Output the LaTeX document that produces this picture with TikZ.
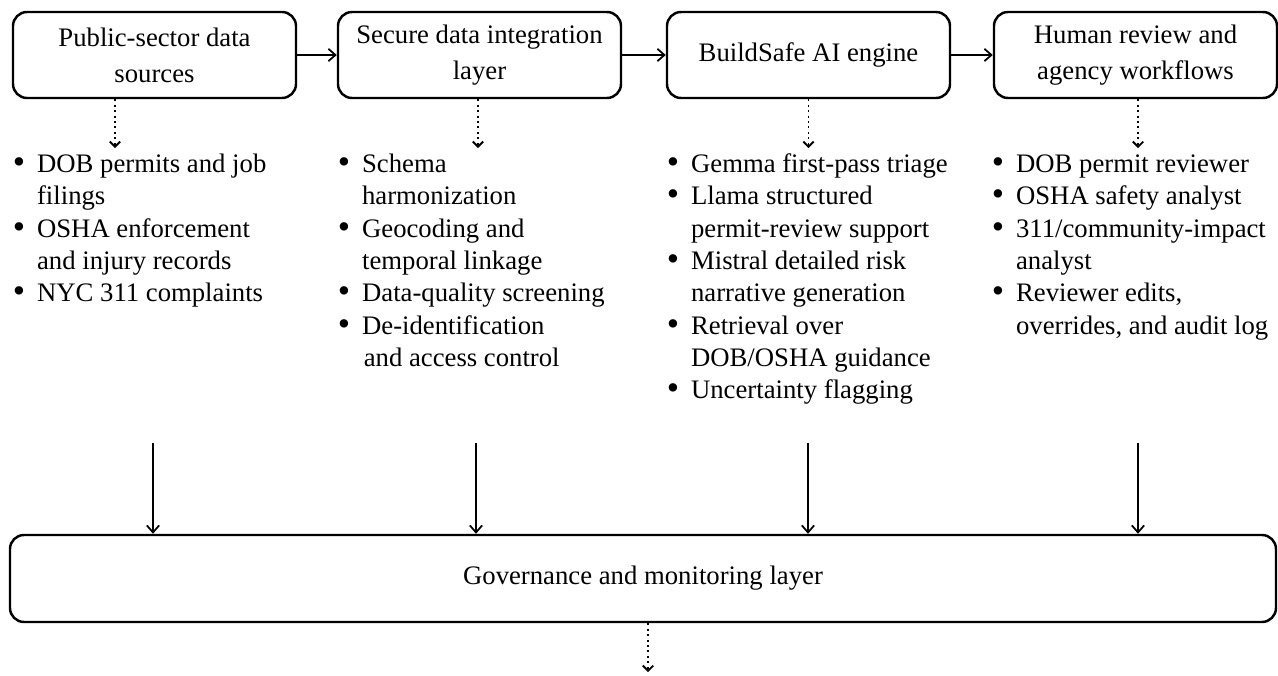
\documentclass[tikz,border=0pt]{standalone}
\usepackage{fontspec}
\setmainfont{Liberation Serif}
\usetikzlibrary{arrows.meta}

\newcommand{\bulletlist}[1]{\begin{tabular}{@{}l@{\hspace{6.8pt}}l@{}}#1\end{tabular}}
\newcommand{\bul}{{\fontsize{20}{18.4}\selectfont\raisebox{-0.6pt}{\textbullet}}}

\begin{document}
\begin{tikzpicture}[
  stage/.style={draw, line width=1.4pt, rounded corners=0.28cm,
    minimum width=5.66cm, minimum height=1.72cm, align=center,
    font=\fontsize{15.2}{20.5}\selectfont},
  items/.style={anchor=north west, inner sep=0pt,
    font=\fontsize{15.2}{18.4}\selectfont},
  flow/.style={line width=1pt, -{Straight Barb[length=4pt,width=7pt]}},
  feed/.style={line width=1.1pt, dotted, -{Straight Barb[length=3pt,width=6pt]}}
]
\useasboundingbox (0,0) rectangle (25.56,13.5);

% Etapes
\node[stage] (src) at (3.09,12.4) {Public-sector data\\sources};
\node[stage] (integ) at (9.59,12.4) {Secure data integration\\layer};
\node[stage] (engine) at (16.17,12.4) {BuildSafe AI engine};
\node[stage] (review) at (22.71,12.4) {Human review and\\agency workflows};

\draw[flow] (src) -- (integ);
\draw[flow] (integ) -- (engine);
\draw[flow] (engine) -- (review);

% Listes
\node[items] (srclist) at (0.25,10.51) {\bulletlist{
  \bul & DOB permits and job\\
       & filings\\
  \bul & OSHA enforcement\\
       & and injury records\\
  \bul & NYC 311 complaints}};

\node[items] (integlist) at (6.75,10.51) {\bulletlist{
  \bul & Schema\\
       & harmonization\\
  \bul & Geocoding and\\
       & temporal linkage\\
  \bul & Data-quality screening\\
  \bul & De-identification\\
       & \hspace{1pt}and access control}};

\node[items] (enginelist) at (13.33,10.51) {\bulletlist{
  \bul & Gemma first-pass triage\\
  \bul & Llama structured\\
       & permit-review support\\
  \bul & Mistral detailed risk\\
       & narrative generation\\
  \bul & Retrieval over\\
       & DOB/OSHA guidance\\
  \bul & Uncertainty flagging}};

\node[items] (reviewlist) at (19.83,10.51) {\bulletlist{
  \bul & DOB permit reviewer\\
  \bul & OSHA safety analyst\\
  \bul & 311/community-impact\\
       & analyst\\
  \bul & Reviewer edits,\\
       & overrides, and audit log}};

\draw[feed] ([xshift=-0.79cm]src.south) -- ++(0,-0.98);
\draw[feed] ([xshift=-0.03cm]integ.south) -- ++(0,-0.98);
\draw[feed] (engine.south) -- ++(0,-0.98);
\draw[feed] ([xshift=0.05cm]review.south) -- ++(0,-0.98);

% Gouvernance
\node[stage, minimum width=25.32cm, minimum height=1.74cm] (gov) at (12.86,1.93)
  {Governance and monitoring layer};

\foreach \x in {3.06,9.52,16.16,22.76} {
  \coordinate (top) at (\x,4.64);
  \draw[flow] (top) -- (top |- gov.north);
}

\draw[feed] ([xshift=0.1cm]gov.south) -- ++(0,-0.98);

\end{tikzpicture}
\end{document}
